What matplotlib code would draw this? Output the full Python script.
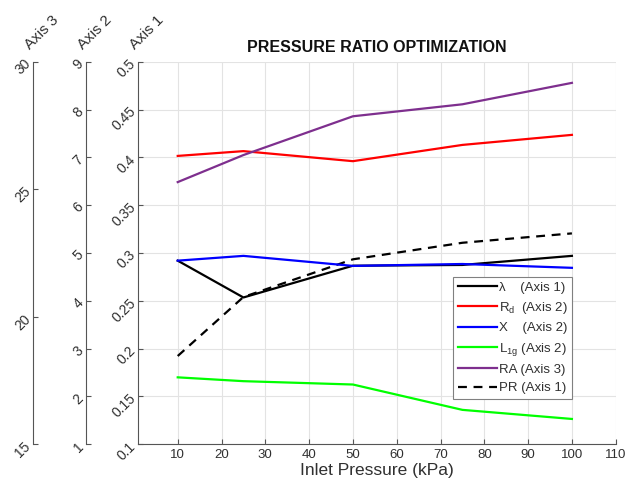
import matplotlib.pyplot as plt
from matplotlib.ticker import FormatStrFormatter

plt.rcParams['font.family'] = ['Liberation Sans', 'DejaVu Sans']

pressure = [10, 25, 50, 75, 100]
lam = [0.292, 0.2535, 0.2867, 0.2875, 0.297]
pr = [0.1923, 0.2540, 0.2934, 0.3107, 0.3205]
rd = [7.03, 7.13, 6.92, 7.26, 7.47]
xval = [4.84, 4.94, 4.73, 4.77, 4.69]
l1g = [2.40, 2.32, 2.25, 1.72, 1.53]
ra = [25.28, 26.34, 27.86, 28.33, 29.17]

x_ticks = list(range(10, 111, 10))
ax1_ticks = [0.1, 0.15, 0.2, 0.25, 0.3, 0.35, 0.4, 0.45, 0.5]
ax2_ticks = list(range(1, 10))
ax3_ticks = [15, 20, 25, 30]

W, H = 638, 493
fig = plt.figure(figsize=(W / 100, H / 100), dpi=100)
left, right, bottom, top = 138.3, 615.7, 444.3, 61.7
ax = fig.add_axes([left / W, 1 - bottom / H, (right - left) / W, (bottom - top) / H])

txt = '#303030'
spc = '#555555'

ax.plot(pressure, lam, color='black', lw=1.6)
ax.plot(pressure, pr, color='black', lw=1.6, ls=(0, (4, 3)))
ax.set_xlim(1, 110)
ax.set_ylim(0.1, 0.5)
ax.set_xticks(x_ticks)
ax.set_yticks(ax1_ticks)
ax.yaxis.set_major_formatter(FormatStrFormatter('%g'))
ax.grid(True, color='#e3e3e3', lw=0.8)
ax.set_axisbelow(True)
for s in ['top', 'right']:
    ax.spines[s].set_visible(False)
for s in ['left', 'bottom']:
    ax.spines[s].set_color(spc)
ax.tick_params(direction='in', length=3.5, color=spc, labelcolor=txt, labelsize=9.5)
ax.tick_params(axis='y', labelsize=10)
ax.set_xlabel('Inlet Pressure (kPa)', fontsize=12.5, color=txt, labelpad=1)
ax.set_title('PRESSURE RATIO OPTIMIZATION', fontsize=11.5, fontweight='bold', color='#111111', pad=7)


def extra_axis(offset):
    a = ax.twinx()
    a.patch.set_visible(False)
    for s in ['top', 'right', 'bottom']:
        a.spines[s].set_visible(False)
    a.spines['left'].set_position(('axes', offset))
    a.spines['left'].set_color(spc)
    a.yaxis.set_ticks_position('left')
    a.tick_params(direction='in', length=3.5, color=spc, labelcolor=txt, labelsize=10)
    return a


ax2 = extra_axis((86 - left) / (right - left))
ax2.set_ylim(1, 9)
ax2.set_yticks(ax2_ticks)
ax2.plot(pressure, rd, color='#ff0000', lw=1.6)
ax2.plot(pressure, xval, color='#0000ff', lw=1.6)
ax2.plot(pressure, l1g, color='#00ff00', lw=1.6)

ax3 = extra_axis((33 - left) / (right - left))
ax3.set_ylim(15, 30)
ax3.set_yticks(ax3_ticks)
ax3.plot(pressure, ra, color='#7e2f8e', lw=1.6)

for a in [ax, ax2, ax3]:
    for lbl in a.get_yticklabels():
        lbl.set_rotation(45)
        lbl.set_rotation_mode('anchor')
        lbl.set_ha('right')
        lbl.set_va('center')

for xpix, name in [(135, 'Axis 1'), (83, 'Axis 2'), (30, 'Axis 3')]:
    fig.text(xpix / W, 1 - 50 / H, name, rotation=45, rotation_mode='anchor',
             ha='left', va='baseline', fontsize=11, color=txt)

handles = ax.lines[:1] + ax2.lines[:] + ax3.lines[:] + ax.lines[1:2]
labels = ['\u03bb    (Axis 1)', 'R$_\\mathregular{d}$  (Axis 2)', 'X    (Axis 2)',
          'L$_\\mathregular{1g}$ (Axis 2)', 'RA (Axis 3)', 'PR (Axis 1)']
leg = ax3.legend(handles, labels, loc='lower right',
                 bbox_to_anchor=((572 - left) / (right - left), (bottom - 399) / (bottom - top)),
                 fontsize=9.5, handlelength=3.0, handletextpad=0.1, borderpad=0.35,
                 labelspacing=0.47, fancybox=False, edgecolor='#808080', framealpha=1,
                 borderaxespad=0)
leg.get_frame().set_linewidth(0.8)
for t in leg.get_texts():
    t.set_color(txt)

fig.savefig('out.png', dpi=100)
